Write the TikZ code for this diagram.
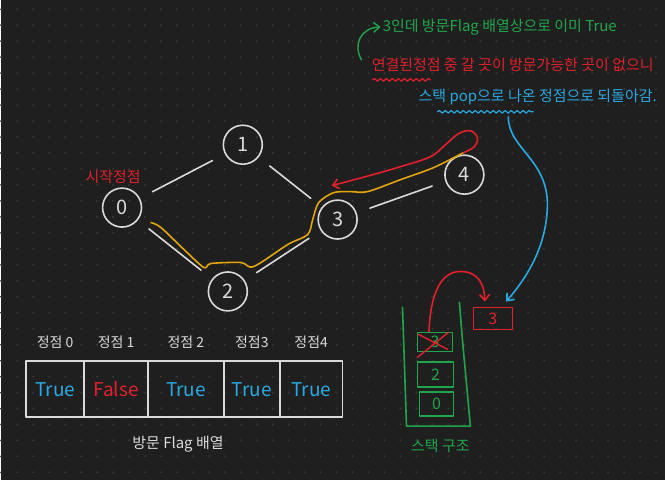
\documentclass[tikz,border=0pt]{standalone}
\usepackage{fontspec}
\setmainfont{Noto Sans CJK KR}
\usetikzlibrary{arrows.meta,positioning,decorations.pathmorphing}

\definecolor{board}{HTML}{1F1F1F}
\definecolor{griddot}{HTML}{343434}
\definecolor{chalk}{HTML}{DADADA}
\definecolor{penyellow}{HTML}{E2A50E}
\definecolor{penred}{HTML}{E3202B}
\definecolor{pengreen}{HTML}{1FA64B}
\definecolor{penblue}{HTML}{2AA9E0}

\tikzset{
  vertex/.style={circle, draw=chalk, line width=1.6pt, minimum size=39pt, inner sep=0pt,
    text=chalk, font=\fontsize{20}{22}\selectfont},
  edge/.style={draw=chalk, line width=1.6pt, shorten <=14pt, shorten >=14pt},
  note/.style={inner sep=0pt, font=\fontsize{15}{17}\selectfont},
  cell/.style={draw=chalk, line width=1.6pt, minimum height=56pt, inner sep=0pt,
    font=\fontsize{19}{21}\selectfont},
  head/.style={inner sep=0pt, text=chalk, font=\fontsize{14}{16}\selectfont},
  slot/.style={draw=pengreen, line width=1.6pt, inner sep=0pt, text=pengreen,
    font=\fontsize{16}{18}\selectfont},
  wavy/.style={decorate, decoration={snake, amplitude=1.3pt, segment length=6pt}},
}

\begin{document}
\begin{tikzpicture}[x=1pt, y=-1pt, >={Straight Barb[length=6pt,width=10pt]},
    line cap=round, line join=round]
    % board with dot grid
    \fill[board] (0,0) rectangle (665,481);
    \foreach \gx in {0,16,...,664}
      \foreach \gy in {9.3,25.3,...,480}
        \fill[griddot] (\gx,\gy) circle (1.3pt);

    % graph
    \node[vertex] (v0) at (121,208) {0};
    \node[vertex] (v1) at (242,145) {1};
    \node[vertex] (v2) at (227,292) {2};
    \node[vertex] (v3) at (337,220) {3};
    \node[vertex] (v4) at (464,175) {4};
    \node[note, text=penred] (start) at (112,177) {시작정점};
    \draw[edge] (v0) -- (v1);
    \draw[edge] (v1) -- (v3);
    \draw[edge] (v0) -- (v2);
    \draw[edge] (v2) -- (v3);
    \draw[edge] (v3) -- (v4);

    % visit path and way back
    \draw[penyellow, line width=1.6pt] plot[smooth, tension=.5] coordinates {(150,223) (160,228) (183,250)
      (203,268) (210,264) (240,263) (253,267) (287,245) (307,235) (312,220) (318,203) (333,193)
      (350,192) (367,192) (400,180) (433,168) (463,153)};
    \draw[penred, line width=1.6pt, ->] plot[smooth, tension=.6] coordinates {(463,153) (474,147)
      (477,138) (470,131) (458,134) (445,145) (430,157) (400,167) (365,177) (331,186)};

    % notes
    \node[note, text=pengreen, anchor=west] (again) at (382,27) {3인데 방문Flag 배열상으로 이미 True};
    \node[note, text=penred, anchor=west] (nowhere) at (371,65) {연결된정점 중 갈 곳이 방문가능한 곳이 없으니};
    \node[note, text=penblue, anchor=west] (back) at (418,97) {스택 pop으로 나온 정점으로 되돌아감.};
    \coordinate (hook) at (361,60);
    \draw[pengreen, line width=1.4pt, ->] (hook) .. controls (352,45) and (360,28) .. ([xshift=-2pt]again.west);
    \draw[penred, line width=1.2pt, wavy] (372,80) -- (430,80);
    \draw[penblue, line width=1.2pt, wavy] (437,112) -- (533,112);

    % stack
    \draw[pengreen, line width=1.6pt] (402,308) -- (406,427) -- (470,427) -- (462,340) -- (459,303);
    \node[slot, minimum width=35pt, minimum height=19pt] (s3) at (434.5,342.5) {3};
    \node[slot, minimum width=36pt, minimum height=25pt] (s2) at (435,375.5) {2};
    \node[slot, minimum width=34pt, minimum height=24pt] (s0) at (436,405) {0};
    \draw[penred, line width=1.4pt] (417,358) -- (448,333) (418,335) -- (447,350);
    \node[note, text=pengreen] (stacklabel) at (440,447) {스택 구조};
    \node[draw=penred, line width=1.6pt, text=penred, minimum width=39pt, minimum height=22pt,
      inner sep=0pt, font=\fontsize{16}{18}\selectfont] (p3) at (492.5,319) {3};
    \draw[penred, line width=1.6pt, ->] ([xshift=-6pt]s3.north) .. controls (430,295) and (440,272) .. (460,272)
      .. controls (478,272) and (484,285) .. ([xshift=-8pt,yshift=5pt]p3.north);
    \coordinate (drop) at (508,117);
    \draw[penblue, line width=1.6pt, ->] (drop) .. controls (508,150) and (550,160) .. (547,210)
      .. controls (545,250) and (525,280) .. ([xshift=-7pt,yshift=5pt]p3.north east);

    % visit flag array
    \foreach \l/\r/\word/\ink/\head [count=\i from 0] in {25/83/True/penblue/정점 0,
        83/147/False/penred/정점 1, 147/223/True/penblue/정점 2, 223/279/True/penblue/정점3,
        279/342/True/penblue/정점4}{
      \node[cell, minimum width={\r-\l}, text=\ink] (c\i) at ({(\l+\r)/2},390) {\word};
      \node[head, above=12pt of c\i] (h\i) {\head};
    }
    \node[note, text=chalk] (flags) at (177,445) {방문 Flag 배열};
\end{tikzpicture}
\end{document}
